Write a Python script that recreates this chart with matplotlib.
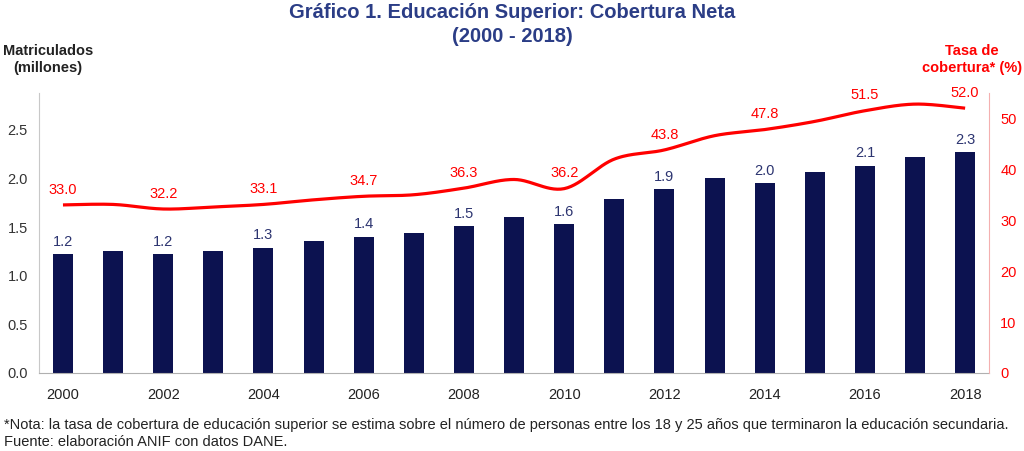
import matplotlib
matplotlib.use("Agg")
import matplotlib.pyplot as plt
import numpy as np

plt.rcParams['font.family'] = ['Liberation Sans', 'DejaVu Sans']

years = list(range(2000, 2019))
matriculados = [1.22, 1.25, 1.22, 1.25, 1.29, 1.355, 1.40, 1.44, 1.51, 1.605,
                1.53, 1.79, 1.89, 2.01, 1.95, 2.07, 2.13, 2.22, 2.27]
cobertura = [33.0, 33.1, 32.2, 32.6, 33.1, 34.0, 34.7, 35.0, 36.3, 38.0,
             36.2, 42.0, 43.8, 46.6, 47.8, 49.4, 51.5, 52.8, 52.0]
bar_labels = {2000: "1.2", 2002: "1.2", 2004: "1.3", 2006: "1.4", 2008: "1.5",
              2010: "1.6", 2012: "1.9", 2014: "2.0", 2016: "2.1", 2018: "2.3"}
line_labels = {2000: "33.0", 2002: "32.2", 2004: "33.1", 2006: "34.7", 2008: "36.3",
               2010: "36.2", 2012: "43.8", 2014: "47.8", 2016: "51.5", 2018: "52.0"}
xtick_years = list(range(2000, 2019, 2))
left_ticks = [0.0, 0.5, 1.0, 1.5, 2.0, 2.5]
right_ticks = [0, 10, 20, 30, 40, 50]

NAVY = '#0c1250'
LBL = '#2c3470'
RED = '#ff0000'


def smooth(x, y, n=30):
    x = np.asarray(x, float); y = np.asarray(y, float)
    P = np.column_stack([x, y])
    out = []
    for i in range(len(P) - 1):
        p0 = P[i - 1] if i > 0 else P[i]
        p1 = P[i]; p2 = P[i + 1]
        p3 = P[i + 2] if i + 2 < len(P) else P[i + 1]
        c1 = p1 + (p2 - p0) / 6.0
        c2 = p2 - (p3 - p1) / 6.0
        t = np.linspace(0, 1, n)[:, None]
        seg = ((1 - t) ** 3) * p1 + 3 * ((1 - t) ** 2) * t * c1 + 3 * (1 - t) * t ** 2 * c2 + t ** 3 * p2
        out.append(seg if i == 0 else seg[1:])
    s = np.vstack(out)
    return s[:, 0], s[:, 1]


fig = plt.figure(figsize=(10.24, 4.51), dpi=100)
ax = fig.add_axes([0.038, 0.173, 0.928, 0.621])
ax2 = ax.twinx()
ax.set_zorder(1); ax2.set_zorder(2)
ax.patch.set_visible(False)

ax.bar(years, matriculados, width=0.4, color=NAVY, zorder=2)
for yr, lab in bar_labels.items():
    v = matriculados[years.index(yr)]
    ax.annotate(lab, (yr, v), xytext=(0, 4), textcoords='offset points',
                ha='center', va='bottom', fontsize=10.5, color=LBL)

sx, sy = smooth(years, cobertura)
ax2.plot(sx, sy, color=RED, lw=2.3, solid_capstyle='butt')
for yr, lab in line_labels.items():
    v = cobertura[years.index(yr)]
    ax2.annotate(lab, (yr, v), xytext=(0, 6), textcoords='offset points',
                 ha='center', va='bottom', fontsize=10.5, color=RED)

ax.set_xlim(1999.52, 2018.48)
ax.set_ylim(0, 2.88)
ax2.set_ylim(0, 55)
ax.set_xticks(xtick_years)
ax.set_xticklabels([str(y) for y in xtick_years])
ax.set_yticks(left_ticks)
ax.set_yticklabels([f"{t:.1f}" for t in left_ticks])
ax2.set_yticks(right_ticks)
ax2.set_yticklabels([str(t) for t in right_ticks])

for a in (ax, ax2):
    a.spines['top'].set_visible(False)
ax.spines['right'].set_visible(False)
ax2.spines['left'].set_visible(False)
ax2.spines['bottom'].set_visible(False)
ax.spines['left'].set_color('#c8c8c8')
ax.spines['bottom'].set_color('#b0b0b0')
ax2.spines['right'].set_color('#f4b0b0')
ax.tick_params(axis='y', length=0, labelsize=10.5, labelcolor='#333333', pad=8)
ax.tick_params(axis='x', length=0, labelsize=10.5, labelcolor='#222222', pad=11)
ax2.tick_params(axis='y', length=0, labelsize=10.5, labelcolor=RED, pad=8)

fig.text(0.5, 0.972, "Gráfico 1. Educación Superior: Cobertura Neta", ha='center', va='center',
         fontsize=14.5, fontweight='bold', color='#2b3d86')
fig.text(0.5, 0.918, "(2000 - 2018)", ha='center', va='center',
         fontsize=14.5, fontweight='bold', color='#2b3d86')
fig.text(0.047, 0.868, "Matriculados\n(millones)", ha='center', va='center',
         fontsize=10.5, fontweight='bold', color='#222222', linespacing=1.2)
fig.text(0.949, 0.868, "Tasa de\ncobertura* (%)", ha='center', va='center',
         fontsize=10.5, fontweight='bold', color=RED, linespacing=1.2)
fig.text(0.004, 0.058, "*Nota: la tasa de cobertura de educación superior se estima sobre el número de personas "
         "entre los 18 y 25 años que terminaron la educación secundaria.",
         ha='left', va='center', fontsize=10.55, color='#222222')
fig.text(0.004, 0.020, "Fuente: elaboración ANIF con datos DANE.",
         ha='left', va='center', fontsize=10.55, color='#222222')

fig.savefig("out.png", dpi=100)
